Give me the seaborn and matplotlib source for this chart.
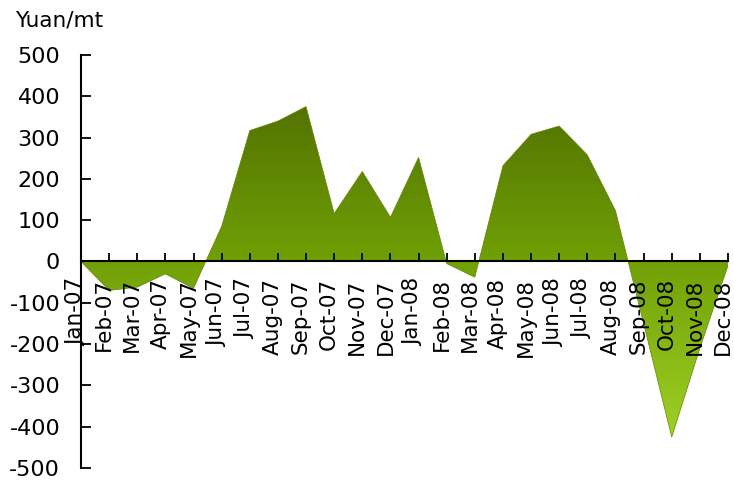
import numpy as np
import pandas as pd
import matplotlib
matplotlib.use("Agg")
import matplotlib.pyplot as plt
import seaborn as sns
from matplotlib.path import Path
from matplotlib.transforms import ScaledTranslation
from matplotlib.colors import LinearSegmentedColormap

months = ["Jan-07", "Feb-07", "Mar-07", "Apr-07", "May-07", "Jun-07",
          "Jul-07", "Aug-07", "Sep-07", "Oct-07", "Nov-07", "Dec-07",
          "Jan-08", "Feb-08", "Mar-08", "Apr-08", "May-08", "Jun-08",
          "Jul-08", "Aug-08", "Sep-08", "Oct-08", "Nov-08", "Dec-08"]
spread = [0, -70, -62, -30, -65, 85, 317, 340, 375, 116, 218, 107,
          252, -5, -38, 232, 308, 328, 258, 123, -150, -425, -210, -10]
y_ticks = [-500, -400, -300, -200, -100, 0, 100, 200, 300, 400, 500]
y_unit = "Yuan/mt"

sns.set_theme(style="white")
plt.rcParams['font.family'] = ['DejaVu Sans']

W, H = 734, 488
fig = plt.figure(figsize=(W / 100, H / 100), dpi=100)
fig.patch.set_facecolor("white")
ax = fig.add_axes([81 / W, 1 - 468 / H, 647 / W, 413 / H])
ax.set_facecolor("white")

df = pd.DataFrame({"idx": np.arange(len(months)), "month": months, "spread": spread})

# area with vertical gradient
poly = ax.fill_between(df["idx"], df["spread"], 0, facecolor="none", edgecolor="none",
                       zorder=0.5)
clip = Path.make_compound_path(*poly.get_paths())
cmap = LinearSegmentedColormap.from_list("g", ["#a8d82a", "#70a006", "#4a6400"])
grad = np.linspace(0, 1, 256).reshape(-1, 1)
im = ax.imshow(grad, extent=[0, len(months) - 1, -500, 500], origin="lower",
               aspect="auto", cmap=cmap, zorder=0.6, interpolation="bilinear")
im.set_clip_path(clip, transform=ax.transData)
sns.lineplot(data=df, x="idx", y="spread", ax=ax, color="#5f8503", linewidth=0.5, zorder=0.7)

ax.set_xlim(0, len(months) - 1)
ax.set_ylim(-500, 500)
ax.set_xlabel("")
ax.set_ylabel("")

ax.spines["top"].set_visible(False)
ax.spines["right"].set_visible(False)
ax.spines["bottom"].set_position(("data", 0))
for s in ("bottom", "left"):
    ax.spines[s].set_color("black")
    ax.spines[s].set_linewidth(1.5)
    ax.spines[s].set_zorder(3)

ax.set_xticks(df["idx"])
ax.set_xticklabels(months, rotation=90, fontsize=15.5, color="black")
ax.set_yticks(y_ticks)
ax.set_yticklabels([str(v) for v in y_ticks], fontsize=16, color="black")
ax.tick_params(axis="x", direction="in", length=6, width=1.3, color="black", pad=12,
               bottom=True)
ax.tick_params(axis="y", direction="in", length=7, width=1.3, color="black", pad=15,
               left=True)
ax.xaxis.set_zorder(5)
ax.yaxis.set_zorder(5)
off = ScaledTranslation(-5 / 100, 0, fig.dpi_scale_trans)
for lab in ax.get_xticklabels():
    lab.set_transform(lab.get_transform() + off)

fig.text(15 / W, 1 - 20 / H, y_unit, fontsize=15.5, ha="left", va="center", color="black")

fig.savefig("out.png", dpi=100, facecolor="white")
